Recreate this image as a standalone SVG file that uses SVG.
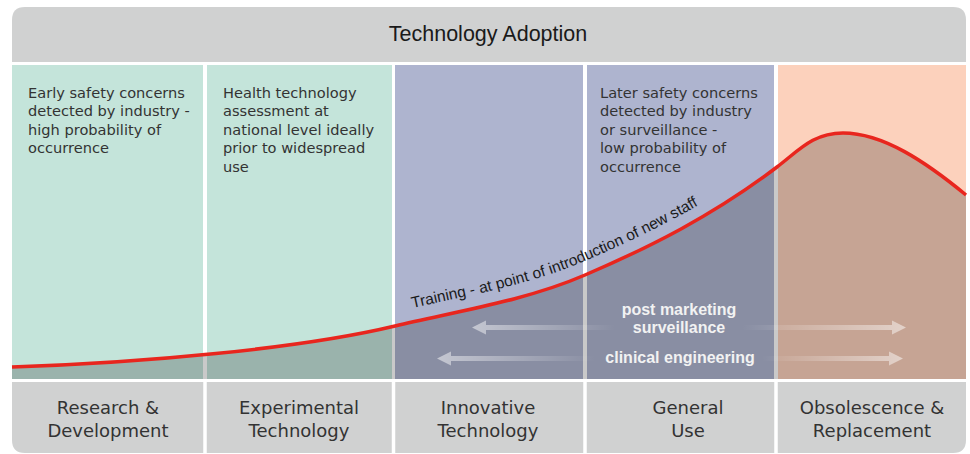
<svg xmlns="http://www.w3.org/2000/svg" xmlns:xlink="http://www.w3.org/1999/xlink" width="970" height="454" viewBox="0 0 970 454">
<defs>
<style>
.bar{fill:#d0d1d1}
.teal{fill:#c4e4da}
.lav{fill:#aeb4cf}
.peach{fill:#fcd1bc}
.ptxt{font-family:"DejaVu Sans",sans-serif;font-size:14.6px;fill:#333}
.btxt{font-family:"DejaVu Sans",sans-serif;font-size:18px;fill:#333;text-anchor:middle}
.wtxt{font-family:"Liberation Sans",Arial,sans-serif;font-size:16px;font-weight:bold;fill:#f2f2f2;text-anchor:middle}
.ttxt{font-family:"Liberation Sans",Arial,sans-serif;font-size:15.5px;fill:#1a1a1a}
.div{stroke:#fff;stroke-width:3.5}
</style>
<linearGradient id="gl1" gradientUnits="userSpaceOnUse" x1="472" y1="0" x2="615" y2="0"><stop offset="0" stop-color="#fff" stop-opacity="0.5"/><stop offset="1" stop-color="#fff" stop-opacity="0"/></linearGradient>
<linearGradient id="gr1" gradientUnits="userSpaceOnUse" x1="742" y1="0" x2="906" y2="0"><stop offset="0" stop-color="#fff" stop-opacity="0"/><stop offset="1" stop-color="#fff" stop-opacity="0.5"/></linearGradient>
<linearGradient id="gl2" gradientUnits="userSpaceOnUse" x1="437" y1="0" x2="595" y2="0"><stop offset="0" stop-color="#fff" stop-opacity="0.5"/><stop offset="1" stop-color="#fff" stop-opacity="0"/></linearGradient>
<linearGradient id="gr2" gradientUnits="userSpaceOnUse" x1="762" y1="0" x2="903" y2="0"><stop offset="0" stop-color="#fff" stop-opacity="0"/><stop offset="1" stop-color="#fff" stop-opacity="0.5"/></linearGradient>
<path id="tp" d="M395,312 C455,297.6 525,287 585,261 C649,233.5 713,201.6 777,153"/>
</defs>
<rect width="970" height="454" fill="#fff"/>

<g id="header">
<path class="bar" d="M12,62 V20 Q12,7 25,7 H953 Q966,7 966,20 V62 Z"/>
<text x="488" y="41" font-family="Liberation Sans, Arial, sans-serif" font-size="21.5" fill="#1a1a1a" text-anchor="middle">Technology Adoption</text>
</g>

<g id="columns">
<rect class="teal" x="12" y="65" width="191" height="314"/>
<rect class="teal" x="207" y="65" width="185" height="314"/>
<rect class="lav" x="395" y="65" width="188" height="314"/>
<rect class="lav" x="587" y="65" width="187" height="314"/>
<rect class="peach" x="778" y="65" width="188" height="314"/>
</g>

<g id="adoption-area">
<path d="M12,367 C140,363 300,348.8 395,326 C455,311.6 525,301 585,275 C649,247.5 713,215.6 777,167 C799,150.3 813,133 843,133 C883,133 926,162 966,195 V379 H12 Z" fill="#000" fill-opacity="0.21"/>
</g>

<g id="col1-text" class="ptxt">
<text x="28" y="97.5">Early safety concerns</text>
<text x="28" y="116">detected by industry -</text>
<text x="28" y="134.5">high probability of</text>
<text x="28" y="153">occurrence</text>
</g>
<g id="col2-text" class="ptxt">
<text x="223" y="97.5">Health technology</text>
<text x="223" y="116">assessment at</text>
<text x="223" y="134.5">national level ideally</text>
<text x="223" y="153">prior to widespread</text>
<text x="223" y="171.5">use</text>
</g>
<g id="col4-text" class="ptxt">
<text x="600" y="97.5">Later safety concerns</text>
<text x="600" y="116">detected by industry</text>
<text x="600" y="134.5">or surveillance -</text>
<text x="600" y="153">low probability of</text>
<text x="600" y="171.5">occurrence</text>
</g>

<g id="connectors">
<polygon fill="url(#gl1)" points="472,327.5 486,320.5 486,325 615,325 615,330 486,330 486,334.5"/>
<polygon fill="url(#gr1)" points="742,325 892,325 892,320.5 906,327.5 892,334.5 892,330 742,330"/>
<polygon fill="url(#gl2)" points="437,358.5 451,351.5 451,356 595,356 595,361 451,361 451,365.5"/>
<polygon fill="url(#gr2)" points="762,356 889,356 889,351.5 903,358.5 889,365.5 889,361 762,361"/>
</g>

<g id="arrow-labels" class="wtxt">
<text x="679" y="315">post marketing</text>
<text x="679" y="333">surveillance</text>
<text x="680" y="363">clinical engineering</text>
</g>

<g id="curve">
<path d="M12,367 C140,363 300,348.8 395,326 C455,311.6 525,301 585,275 C649,247.5 713,215.6 777,167 C799,150.3 813,133 843,133 C883,133 926,162 966,195" fill="none" stroke="#e8261e" stroke-width="3.5"/>
<text class="ttxt"><textPath xlink:href="#tp" href="#tp" startOffset="18">Training - at point </textPath></text>
<text class="ttxt"><textPath xlink:href="#tp" href="#tp" startOffset="142.9">of introduction </textPath></text>
<text class="ttxt"><textPath xlink:href="#tp" href="#tp" startOffset="244.6">of new staff</textPath></text>
</g>

<g id="stages">
<path class="bar" d="M12,382 H966 V440 Q966,453 953,453 H25 Q12,453 12,440 Z"/>
<line class="div" x1="205" y1="382" x2="205" y2="454"/>
<line class="div" x1="393.5" y1="382" x2="393.5" y2="454"/>
<line class="div" x1="585" y1="382" x2="585" y2="454"/>
<line class="div" x1="776" y1="382" x2="776" y2="454"/>
<text class="btxt" x="108" y="414">Research &amp;</text>
<text class="btxt" x="108" y="437">Development</text>
<text class="btxt" x="299" y="414">Experimental</text>
<text class="btxt" x="299" y="437">Technology</text>
<text class="btxt" x="488" y="414">Innovative</text>
<text class="btxt" x="488" y="437">Technology</text>
<text class="btxt" x="688" y="414">General</text>
<text class="btxt" x="688" y="437">Use</text>
<text class="btxt" x="872" y="414">Obsolescence &amp;</text>
<text class="btxt" x="872" y="437">Replacement</text>
</g>
</svg>
